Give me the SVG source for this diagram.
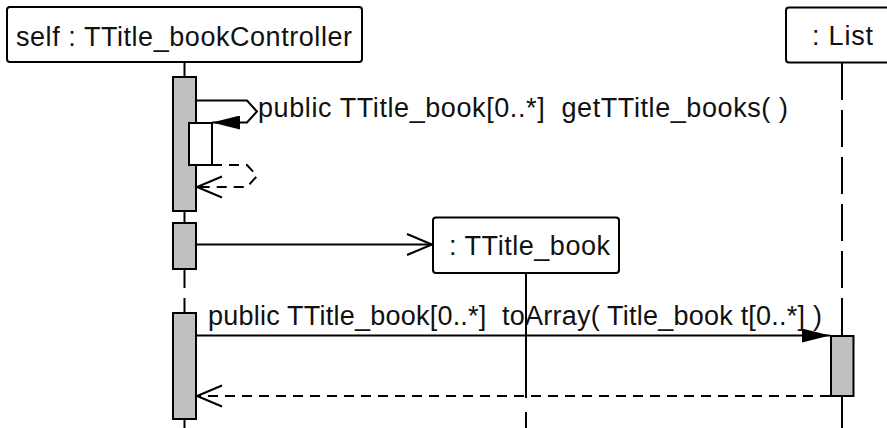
<svg xmlns="http://www.w3.org/2000/svg" width="887" height="428" viewBox="0 0 887 428">
<style>
  .bg{fill:#ffffff}
  .obj{fill:#ffffff;stroke:#000;stroke-width:2}
  .act{fill:#c0c0c0;stroke:#000;stroke-width:2}
  .actw{fill:#ffffff;stroke:#000;stroke-width:2}
  .life{stroke:#000;stroke-width:2;fill:none;stroke-dasharray:37 10}
  .msg{stroke:#000;stroke-width:2;fill:none}
  .ret{stroke:#000;stroke-width:2;fill:none;stroke-dasharray:10 7}
  text{font-family:"Liberation Sans",Arial,sans-serif;font-size:27px;fill:#111;white-space:pre}
</style>
<defs>
  <marker id="filled" viewBox="0 0 28 14" markerWidth="28" markerHeight="14" refX="28" refY="7" orient="auto" markerUnits="userSpaceOnUse">
    <path d="M0,0 L28,7 L0,14 z" fill="#000"/>
  </marker>
  <marker id="open" viewBox="0 0 27 24" markerWidth="27" markerHeight="24" refX="26" refY="12" orient="auto" markerUnits="userSpaceOnUse" overflow="visible">
    <path d="M1,1.5 L26,12 L1,22.5" fill="none" stroke="#000" stroke-width="2"/>
  </marker>
</defs>
<rect class="bg" x="0" y="0" width="887" height="428"/>

<g id="lifelines">
  <line class="life" x1="184.5" y1="63" x2="184.5" y2="428"/>
  <line class="life" x1="842" y1="63" x2="842" y2="428"/>
  <path class="msg" d="M526,273 V398 M526,412 V428"/>
</g>

<g id="node-self">
  <rect class="obj" x="7" y="7" width="355" height="55" rx="3"/>
  <text x="16" y="45.5" textLength="336" lengthAdjust="spacing">self : TTitle_bookController</text>
</g>

<g id="node-list">
  <rect class="obj" x="786" y="7.5" width="115" height="55" rx="3"/>
  <text x="812" y="45" textLength="61" lengthAdjust="spacing">: List</text>
</g>

<g id="node-ttitle-book">
  <rect class="obj" x="433" y="217.5" width="186" height="55.5" rx="3"/>
  <text x="449" y="255" textLength="161" lengthAdjust="spacing">: TTitle_book</text>
</g>

<g id="activations">
  <rect class="act" x="173" y="77" width="23" height="134"/>
  <rect class="actw" x="189" y="123" width="23" height="42"/>
  <rect class="act" x="173" y="223" width="23" height="46"/>
  <rect class="act" x="173" y="313" width="23" height="106"/>
  <rect class="act" x="831" y="336" width="22.5" height="60"/>
</g>

<g id="connectors">
  <path class="msg" d="M196,100.5 H247 L257,111.5 L247,122.5 H212" marker-end="url(#filled)"/>
  <path class="ret" d="M212,165 H247 L257,176 L247,187 H197" marker-end="url(#open)"/>
  <line class="msg" x1="196" y1="244.5" x2="432" y2="244.5" marker-end="url(#open)"/>
  <line class="msg" x1="196" y1="335.5" x2="830" y2="335.5" marker-end="url(#filled)"/>
  <line class="ret" x1="830" y1="396" x2="197" y2="396" marker-end="url(#open)"/>
</g>

<g id="labels">
  <text x="258" y="116.5" textLength="530" lengthAdjust="spacing">public TTitle_book[0..*]  getTTitle_books( )</text>
  <text x="208" y="325" textLength="614" lengthAdjust="spacing">public TTitle_book[0..*]  toArray( Title_book t[0..*] )</text>
</g>
</svg>
